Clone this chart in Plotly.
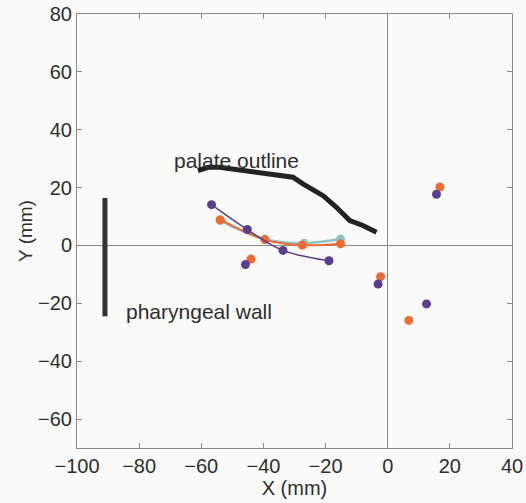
import plotly.graph_objects as go

# Palate outline
palate_x = [-61.1, -57.8, -54.1, -45.5, -38.0, -30.5, -27.3, -20.8, -16.5, -12.2, -8.0, -3.6]
palate_y = [25.9, 27.0, 27.0, 25.9, 24.7, 23.6, 21.3, 17.2, 13.2, 8.6, 6.9, 4.6]

# Pharyngeal wall
wall_x = [-91, -91]
wall_y = [16.4, -24.5]

# Curve series
purple_x = [-56.7, -45.2, -33.7, -18.9]
purple_y = [14.1, 5.5, -1.7, -5.3]
orange_x = [-53.9, -39.5, -27.5, -15.2]
orange_y = [8.9, 2.0, 0.1, 0.6]
cyan_x = [-53.9, -39.5, -26.9, -15.2]
cyan_y = [8.6, 2.2, 0.8, 2.2]

# Isolated points
purple_pts_x = [-45.8, -3.1, 15.7, 12.5]
purple_pts_y = [-6.6, -13.3, 17.7, -20.2]
orange_pts_x = [-44.0, -2.3, 16.8, 6.8]
orange_pts_y = [-4.7, -10.8, 20.2, -25.9]

x_ticks = [-100, -80, -60, -40, -20, 0, 20, 40]
y_ticks = [-60, -40, -20, 0, 20, 40, 60, 80]

PURPLE = "#5b3d8e"
ORANGE = "#f06a35"
CYAN = "#8cc5c6"
BG = "#fafaf8"
TXT = "#2e2e2e"

fig = go.Figure()
fig.add_trace(go.Scatter(x=palate_x, y=palate_y, mode="lines",
                         line=dict(color="#222222", width=5)))
fig.add_trace(go.Scatter(x=wall_x, y=wall_y, mode="lines",
                         line=dict(color="#333333", width=5)))
fig.add_trace(go.Scatter(x=cyan_x, y=cyan_y, mode="lines+markers",
                         line=dict(color=CYAN, width=2.5, shape="spline"),
                         marker=dict(color=CYAN, size=9)))
fig.add_trace(go.Scatter(x=orange_x, y=orange_y, mode="lines+markers",
                         line=dict(color=ORANGE, width=2, shape="spline"),
                         marker=dict(color=ORANGE, size=9)))
fig.add_trace(go.Scatter(x=purple_x, y=purple_y, mode="lines+markers",
                         line=dict(color=PURPLE, width=1.5, shape="spline"),
                         marker=dict(color=PURPLE, size=9)))
fig.add_trace(go.Scatter(x=orange_pts_x, y=orange_pts_y, mode="markers",
                         marker=dict(color=ORANGE, size=9)))
fig.add_trace(go.Scatter(x=purple_pts_x, y=purple_pts_y, mode="markers",
                         marker=dict(color=PURPLE, size=9)))

fig.add_annotation(x=-69.5, y=29.3, text="palate outline", showarrow=False,
                   xanchor="left", yanchor="middle",
                   font=dict(size=21, color=TXT))
fig.add_annotation(x=-85, y=-22.8, text="pharyngeal wall", showarrow=False,
                   xanchor="left", yanchor="middle",
                   font=dict(size=21, color=TXT))

axis_common = dict(showgrid=False, zeroline=True, zerolinecolor="#8a8a8a",
                   zerolinewidth=1, showline=True, linecolor="#8a8a8a",
                   linewidth=1, mirror="ticks", ticks="inside", ticklen=5,
                   tickcolor="#8a8a8a",
                   tickfont=dict(size=20, color=TXT))

fig.update_layout(
    width=526, height=503,
    margin=dict(l=77, r=14, t=14, b=55, autoexpand=False),
    paper_bgcolor=BG, plot_bgcolor=BG,
    showlegend=False,
    font=dict(family="Liberation Sans, Arial, sans-serif", color=TXT),
    xaxis=dict(range=[-100, 40], tickvals=x_ticks,
               title=dict(text="X (mm)", font=dict(size=20), standoff=0),
               **axis_common),
    yaxis=dict(range=[-70, 80], tickvals=y_ticks,
               title=dict(text="Y (mm)", font=dict(size=19), standoff=0),
               **axis_common),
)

fig.write_html("out.html")
